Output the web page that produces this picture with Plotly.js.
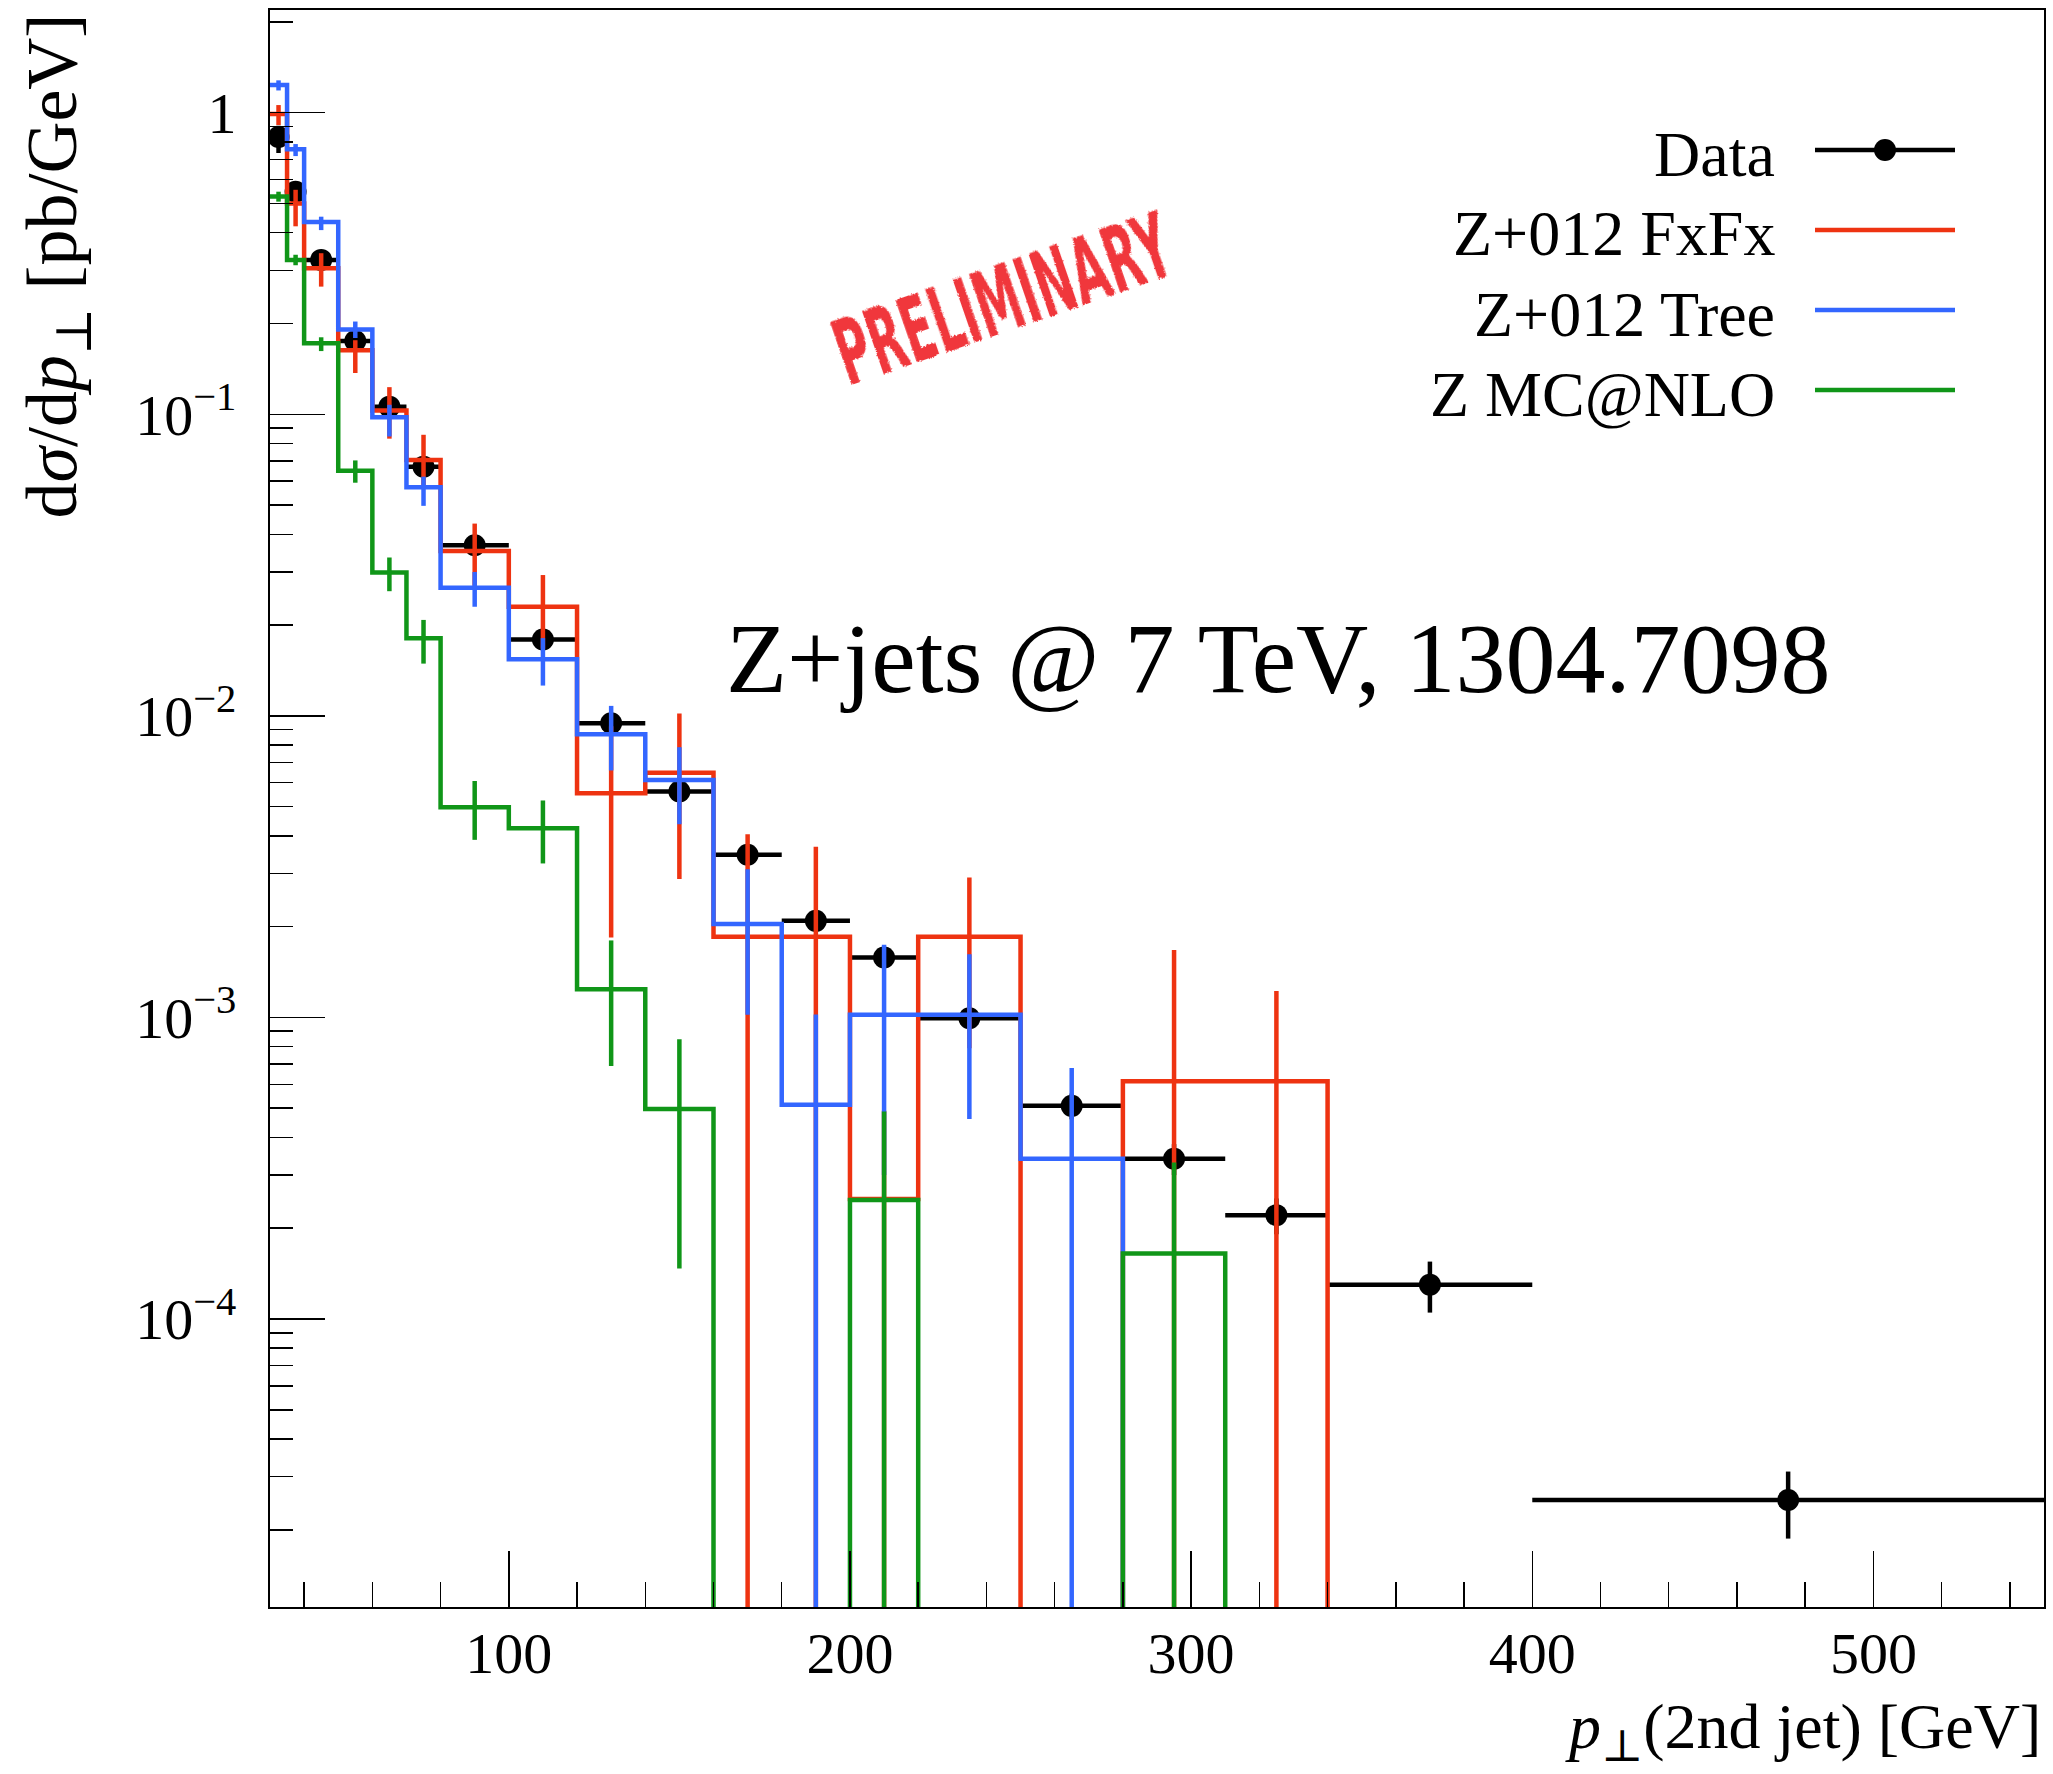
<!DOCTYPE html>
<html>
<head>
<meta charset="utf-8">
<script src="https://cdn.plot.ly/plotly-3.0.1.min.js"></script>
<style>
  html, body { margin: 0; padding: 0; background: #ffffff; }
  #wrap { position: relative; width: 2053px; height: 1774px; overflow: hidden; }
  #chart { position: absolute; left: 0; top: 0; width: 2053px; height: 1774px; }
  #stamp {
    position: absolute; left: 1003px; top: 300px;
    white-space: nowrap; line-height: 1;
    font-family: 'Liberation Sans Narrow', 'DejaVu Sans Condensed', 'Liberation Sans', sans-serif;
    font-weight: bold; font-size: 90px; color: rgb(238, 30, 36);
    opacity: 0.88; pointer-events: none; filter: url(#rough);
  }
</style>
</head>
<body>
<div id="wrap">
  <div id="chart"></div>
  <div id="stamp">PRELIMINARY</div>
</div>
<svg width="0" height="0" style="position:absolute">
  <filter id="rough">
    <feTurbulence type="fractalNoise" baseFrequency="0.9" numOctaves="2" seed="4" result="noise"/>
    <feDisplacementMap in="SourceGraphic" in2="noise" scale="5" xChannelSelector="R" yChannelSelector="G"/>
  </filter>
</svg>
<script>
// Second-jet transverse momentum bins [GeV]
const binEdges = [30, 35, 40, 50, 60, 70, 80, 100, 120, 140, 160, 180, 200, 220, 250, 280, 310, 340, 400, 550];

// Measured cross section dσ/dp⊥ [pb/GeV]
const dataVals      = [0.83, 0.547, 0.325, 0.175, 0.106, 0.067, 0.0368, 0.0179, 0.00945, 0.00561, 0.00346, 0.00209, 0.00158, 0.000994, 0.000509, 0.000340, 0.000221, 0.000130, 0.0000251];
const dataErrUp     = [0.075, 0.03, 0.015, 0.008, 0.005, 0.003, 0.0017, 0.0009, 0.0005, 0.0003, 0.0002, 0.00014, 0.00011, 0.00008, 0.00005, 0.00004, 0.00003, 0.000025, 0.0000061];
const dataErrDown   = [0.095, 0.03, 0.015, 0.008, 0.005, 0.003, 0.0017, 0.0009, 0.0005, 0.0003, 0.0002, 0.00014, 0.00011, 0.00008, 0.00005, 0.00004, 0.00003, 0.000025, 0.0000064];

// Z+012 FxFx prediction
const fxfxVals      = [0.99, 0.50, 0.305, 0.163, 0.103, 0.0705, 0.0352, 0.0230, 0.00554, 0.00648, 0.00185, 0.00185, 0.00025, 0.00185, 0, 0.000614, 0.000614, 0, 0];
const fxfxErrUp     = [0.07, 0.055, 0.037, 0.013, 0.020, 0.015, 0.0082, 0.0063, 0.0037, 0.0037, 0.0022, 0.00183, 0.00024, 0.00106, 0, 0.00106, 0.00061, 0, 0];
const fxfxErrDown   = [0.08, 0.08, 0.04, 0.026, 0.020, 0.013, 0.0082, 0.0063, 0.0037, 0.0036, 0.00185, 0.00185, 0.00025, 0.00106, 0, 0.000614, 0.000614, 0, 0];

// Z+012 tree-level merged prediction
const treeVals      = [1.235, 0.757, 0.434, 0.191, 0.0977, 0.0573, 0.0266, 0.0154, 0.00869, 0.00613, 0.00204, 0.000513, 0.00102, 0.00102, 0.000340, 0, 0, 0, 0];
const treeErrUp     = [0.045, 0.03, 0.018, 0.012, 0.0098, 0.0048, 0.0034, 0.0027, 0.0021, 0.00174, 0.00106, 0.00051, 0.00072, 0.0006, 0.00034, 0, 0, 0, 0];
const treeErrDown   = [0.05, 0.039, 0.026, 0.012, 0.0133, 0.0076, 0.0036, 0.0028, 0.0021, 0.00176, 0.00102, 0.000513, 0.00072, 0.00056, 0.00034, 0, 0, 0, 0];

// Z MC@NLO prediction
const mcnloVals     = [0.527, 0.325, 0.172, 0.065, 0.0299, 0.0181, 0.00498, 0.00424, 0.00124, 0.000497, 0, 0, 0.000248, 0, 0, 0.000165, 0, 0, 0];
const mcnloErrUp    = [0.02, 0.013, 0.008, 0.0053, 0.0036, 0.0027, 0.0011, 0.001, 0.00056, 0.00035, 0, 0, 0.00024, 0, 0, 0.000165, 0, 0, 0];
const mcnloErrDown  = [0.02, 0.013, 0.01, 0.0057, 0.004, 0.0032, 0.0011, 0.001, 0.00055, 0.00035, 0, 0, 0.000248, 0, 0, 0.000165, 0, 0, 0];

// Axis tick labels
const xTickVals = [100, 200, 300, 400, 500];
const xTickText = ['100', '200', '300', '400', '500'];
const yTickVals = [1e-4, 1e-3, 1e-2, 1e-1, 1];
const yTickText = ['10<sup>\u22124</sup>', '10<sup>\u22123</sup>', '10<sup>\u22122</sup>', '10<sup>\u22121</sup>', '1'];

// Legend entries
const legendNames  = ['Data', 'Z+012 FxFx', 'Z+012 Tree', 'Z MC@NLO'];
const legendColors = ['#000000', '#EE3311', '#3366FF', '#109618'];

// ---------------------------------------------------------------------------
const SERIF = 'Liberation Serif, DejaVu Serif, serif';
const LW = 4.5;
const centers = binEdges.slice(0, -1).map((e, i) => (e + binEdges[i + 1]) / 2);
const halfWidths = binEdges.slice(0, -1).map((e, i) => (binEdges[i + 1] - e) / 2);
const EMPTY = 1e-9; // empty bins fall off the bottom of the log axis

function stepTrace(vals, color) {
  const y = vals.map(v => (v > 0 ? v : EMPTY));
  y.push(y[y.length - 1]);
  return {
    x: binEdges, y: y, mode: 'lines', type: 'scatter',
    line: { shape: 'hv', color: color, width: LW },
    showlegend: false, hoverinfo: 'skip'
  };
}

function errTrace(vals, up, down, color) {
  return {
    x: centers, y: vals.map(v => (v > 0 ? v : null)), mode: 'markers', type: 'scatter',
    marker: { size: 1, opacity: 0, color: color },
    error_y: { type: 'data', symmetric: false, array: up, arrayminus: down, color: color, thickness: LW, width: 0 },
    showlegend: false, hoverinfo: 'skip'
  };
}

const dataTrace = {
  x: centers, y: dataVals, mode: 'markers', type: 'scatter',
  marker: { size: 22, color: '#000000', symbol: 'circle' },
  error_x: { type: 'data', array: halfWidths, color: '#000000', thickness: LW, width: 0 },
  error_y: { type: 'data', symmetric: false, array: dataErrUp, arrayminus: dataErrDown, color: '#000000', thickness: LW, width: 0 },
  showlegend: false
};

const traces = [
  dataTrace,
  stepTrace(fxfxVals, legendColors[1]), errTrace(fxfxVals, fxfxErrUp, fxfxErrDown, legendColors[1]),
  stepTrace(treeVals, legendColors[2]), errTrace(treeVals, treeErrUp, treeErrDown, legendColors[2]),
  stepTrace(mcnloVals, legendColors[3]), errTrace(mcnloVals, mcnloErrUp, mcnloErrDown, legendColors[3])
];

// Plot frame in page pixels, used to place the free-standing labels
const FRAME = { l: 270, r: 2044, t: 10, b: 1607 };
const fx = px => (px - FRAME.l) / (FRAME.r - FRAME.l);
const fy = py => (FRAME.b - py) / (FRAME.b - FRAME.t);

const yMinor = [];
for (let k = -5; k <= 0; k++) for (let m = 2; m <= 9; m++) yMinor.push(m * Math.pow(10, k));

const annotations = [
  { text: 'Z+jets @ 7 TeV, 1304.7098', x: fx(1278), y: fy(658), xanchor: 'center', yanchor: 'middle',
    font: { family: SERIF, size: 100, color: '#000' } },
  { text: 'd<i>σ</i>/d<i>p</i><sub>⊥</sub> [pb/GeV]', textangle: -90, x: fx(56), y: fy(12),
    xanchor: 'center', yanchor: 'top', font: { family: SERIF, size: 72, color: '#000' } },
  { text: '<i>p</i><sub>⊥</sub>(2nd jet) [GeV]', x: fx(2043), y: fy(1731), xanchor: 'right', yanchor: 'middle',
    font: { family: SERIF, size: 64, color: '#000' } }
];

const shapes = [];
const legendRows = [150, 230, 310, 390];
legendNames.forEach((name, i) => {
  annotations.push({ text: name, x: fx(1777), y: fy(legendRows[i] + 4), xanchor: 'right', yanchor: 'middle',
    font: { family: SERIF, size: 64, color: '#000' } });
  shapes.push({ type: 'line', xref: 'paper', yref: 'paper', x0: fx(1815), x1: fx(1955),
    y0: fy(legendRows[i]), y1: fy(legendRows[i]), line: { color: legendColors[i], width: LW } });
});
shapes.push({ type: 'circle', xref: 'paper', yref: 'paper', xsizemode: 'pixel', ysizemode: 'pixel',
  xanchor: fx(1885), yanchor: fy(legendRows[0]), x0: -11, x1: 11, y0: -11, y1: 11,
  fillcolor: '#000', line: { color: '#000', width: 0 } });
annotations.forEach(a => { a.xref = 'paper'; a.yref = 'paper'; a.showarrow = false; });

const layout = {
  width: 2053, height: 1774,
  margin: { l: FRAME.l, r: 2053 - FRAME.r, t: FRAME.t, b: 1774 - FRAME.b, pad: 0 },
  paper_bgcolor: '#ffffff', plot_bgcolor: '#ffffff',
  showlegend: false,
  font: { family: SERIF, color: '#000' },
  xaxis: {
    range: [30, 550], tickmode: 'array', tickvals: xTickVals, ticktext: xTickText,
    ticks: 'inside', ticklen: 56, tickwidth: 1.5, tickcolor: '#000',
    minor: { tickmode: 'linear', tick0: 0, dtick: 20, ticks: 'inside', ticklen: 25, tickwidth: 1.5, tickcolor: '#000' },
    showline: true, linecolor: '#000', linewidth: 2, mirror: true,
    showgrid: false, zeroline: false, tickfont: { family: SERIF, size: 58, color: '#000' },
    ticklabelstandoff: -6
  },
  yaxis: {
    type: 'log', range: [-4.955, 0.3405], tickmode: 'array', tickvals: yTickVals, ticktext: yTickText,
    ticks: 'inside', ticklen: 55, tickwidth: 1.5, tickcolor: '#000',
    minor: { tickmode: 'array', tickvals: yMinor, ticks: 'inside', ticklen: 23, tickwidth: 1.5, tickcolor: '#000' },
    showline: true, linecolor: '#000', linewidth: 2, mirror: true,
    showgrid: false, zeroline: false, tickfont: { family: SERIF, size: 58, color: '#000' },
    ticklabelstandoff: 20
  },
  annotations: annotations,
  shapes: shapes
};

Plotly.newPlot('chart', traces, layout, { staticPlot: true, displayModeBar: false });

// Rubber-stamp label: rotate and squeeze it to its footprint on the plot
function placeStamp() {
  const st = document.getElementById('stamp');
  const w = st.offsetWidth;
  const sx = 350 / w;
  st.style.transform = 'translate(-50%, -50%) rotate(-19deg) scaleX(' + sx.toFixed(3) + ')';
}
if (document.fonts && document.fonts.ready) { document.fonts.ready.then(placeStamp); }
placeStamp();
</script>
</body>
</html>
